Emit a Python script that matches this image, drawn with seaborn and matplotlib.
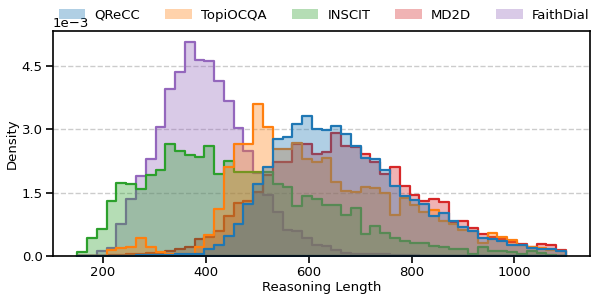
import numpy as np
import pandas as pd
import seaborn as sns
import matplotlib
matplotlib.use("Agg")
import matplotlib.pyplot as plt
from matplotlib.patches import Patch
from matplotlib.ticker import MultipleLocator, ScalarFormatter

# ---- data (density per bin, in units of 1e-3) ----
datasets = ["QReCC", "TopiOCQA", "INSCIT", "MD2D", "FaithDial"]
bin_start = 150
bin_width = 19
n_bins = 50

qrecc = [0, 0, 0, 0, 0, 0.01, 0.02, 0.02, 0.03, 0.03,
         0.04, 0.05, 0.06, 0.16, 0.26, 0.47, 0.77, 1.22, 1.70, 2.10,
         2.76, 2.82, 3.13, 3.32, 3.01, 2.97, 3.07, 2.89, 2.61, 2.33,
         2.30, 2.04, 1.66, 1.41, 1.32, 1.22, 0.94, 1.01, 0.82, 0.68,
         0.59, 0.43, 0.40, 0.35, 0.26, 0.25, 0.18, 0.17, 0.16, 0.11]
topiocqa = [0, 0, 0, 0.15, 0.20, 0.22, 0.43, 0.21, 0.09, 0.05,
            0.05, 0.05, 0.22, 0.50, 1.12, 2.11, 2.65, 2.65, 3.60, 3.05,
            2.53, 2.53, 2.68, 2.29, 2.23, 2.32, 1.75, 1.55, 1.51, 1.63,
            1.61, 1.50, 0.97, 1.37, 1.20, 1.04, 1.10, 0.84, 0.76, 0.62,
            0.60, 0.32, 0.55, 0.44, 0.38, 0.25, 0.22, 0.20, 0.15, 0.12]
inscit = [0.09, 0.43, 0.63, 1.30, 1.73, 1.71, 1.58, 1.91, 2.03, 2.66,
          2.49, 2.39, 2.35, 2.61, 1.95, 2.24, 1.98, 1.98, 1.98, 1.99,
          1.71, 1.64, 1.19, 1.41, 1.36, 1.20, 1.20, 0.98, 1.14, 0.52,
          0.72, 0.55, 0.43, 0.36, 0.32, 0.30, 0.23, 0.22, 0.17, 0.17,
          0.06, 0.22, 0.12, 0.12, 0.10, 0.05, 0.12, 0.08, 0.03, 0]
md2d = [0, 0, 0.01, 0.02, 0.03, 0.04, 0.06, 0.07, 0.08, 0.11,
        0.16, 0.21, 0.40, 0.46, 0.59, 0.95, 1.25, 1.30, 1.51, 1.91,
        2.23, 2.23, 2.65, 2.65, 2.42, 2.45, 2.90, 2.60, 2.57, 2.41,
        2.23, 1.94, 2.11, 1.65, 1.44, 1.30, 1.36, 1.28, 0.81, 0.84,
        0.66, 0.52, 0.46, 0.40, 0.34, 0.29, 0.22, 0.29, 0.26, 0.14]
faithdial = [0, 0, 0.13, 0.20, 0.77, 1.36, 1.90, 2.29, 3.06, 3.94,
             4.35, 5.07, 4.63, 4.60, 4.13, 3.66, 3.02, 2.48, 1.96, 1.44,
             1.04, 0.62, 0.59, 0.43, 0.26, 0.23, 0.14, 0.07, 0.06, 0.05,
             0.04, 0.04, 0.03, 0.02, 0.02, 0.01, 0.01, 0.01, 0.01, 0.01,
             0.005, 0, 0, 0, 0, 0, 0, 0, 0, 0]
series = [qrecc, topiocqa, inscit, md2d, faithdial]

edges = [float(bin_start + bin_width * i) for i in range(n_bins + 1)]
centers = [(a + b) / 2 for a, b in zip(edges[:-1], edges[1:])]

df = pd.concat([
    pd.DataFrame({"length": centers,
                  "density": np.asarray(vals, dtype=float) * 1e-3,
                  "dataset": name})
    for name, vals in zip(datasets, series)
], ignore_index=True)

sns.set_theme(style="ticks")
plt.rcParams["font.family"] = ["DejaVu Sans"]
plt.rcParams["font.size"] = 9
for key in ["text.color", "axes.labelcolor", "xtick.color", "ytick.color"]:
    plt.rcParams[key] = "black"

palette = sns.color_palette("tab10", 5)
colors = dict(zip(datasets, palette))

fig = plt.figure(figsize=(5.95, 2.94), dpi=100)
ax = fig.add_axes([0.089, 0.129, 0.903, 0.766])

sns.histplot(data=df, x="length", weights="density", hue="dataset",
             hue_order=datasets, palette=colors, bins=edges,
             element="step", fill=True, alpha=0.35, linewidth=1.6,
             stat="count", legend=False, ax=ax)

ax.set_xlabel("Reasoning Length", fontsize=9.5, labelpad=1)
ax.set_ylabel("Density", fontsize=9.5, labelpad=2)
ax.set_xticks([200, 400, 600, 800, 1000])
ax.yaxis.set_major_locator(MultipleLocator(0.0015))
fmt = ScalarFormatter(useMathText=False)
fmt.set_powerlimits((-3, -3))
ax.yaxis.set_major_formatter(fmt)
ax.yaxis.get_offset_text().set_fontsize(9.5)
ax.tick_params(axis="both", labelsize=9.5, length=5, width=1.2,
               direction="out", pad=2.5)
for s in ax.spines.values():
    s.set_linewidth(1.2)
    s.set_color("black")
ax.yaxis.grid(True, linestyle="--", color="#cccccc", linewidth=1.0)
ax.set_axisbelow(True)

handles = [Patch(facecolor=colors[n], alpha=0.35, edgecolor="none", label=n)
           for n in datasets]
ax.legend(handles=handles, loc="center", bbox_to_anchor=(0.505, 1.07),
          ncol=5, frameon=False, fontsize=9.5, columnspacing=1.9,
          handletextpad=0.7)

fig.savefig("out.png", dpi=100)
